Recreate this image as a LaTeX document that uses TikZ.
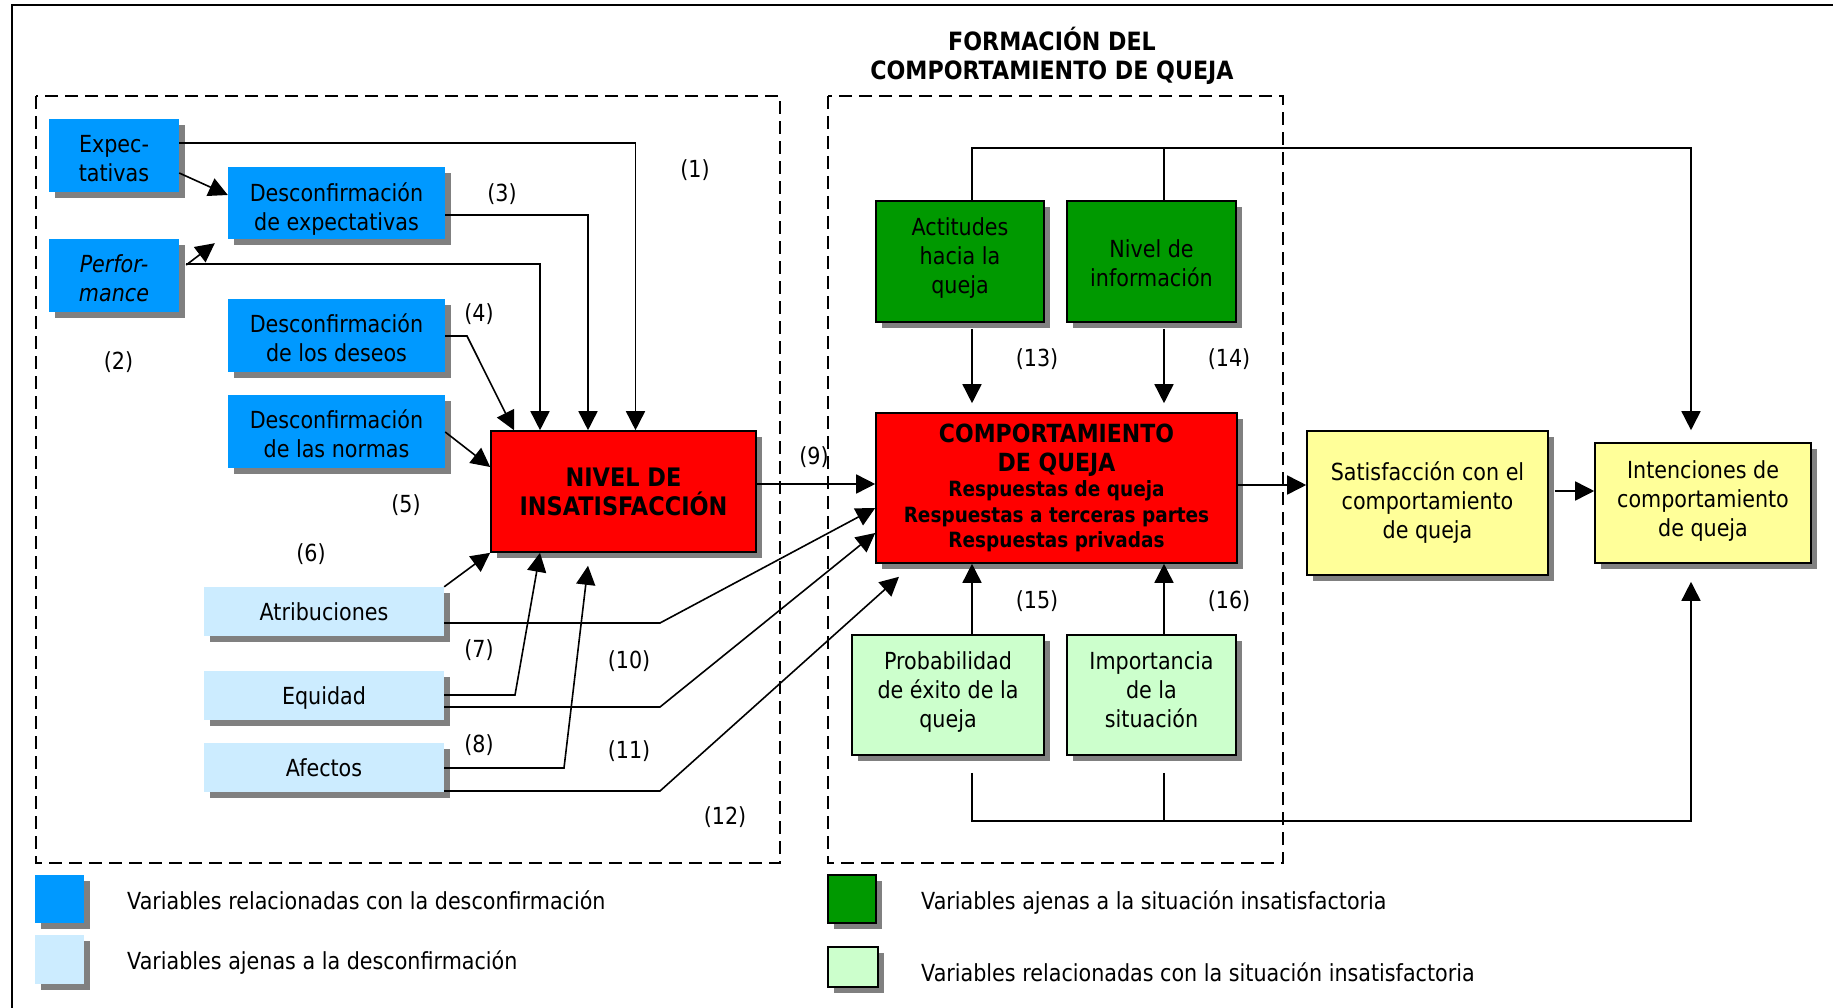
\documentclass[tikz,border=0pt]{standalone}
\usepackage{fontspec}
\setmainfont{DejaVu Sans}[FakeStretch=0.88]
\usetikzlibrary{arrows.meta,shadows,calc}
\definecolor{cblue}{RGB}{0,153,255}
\definecolor{clblue}{RGB}{204,236,255}
\definecolor{cgreen}{RGB}{0,153,0}
\definecolor{clgreen}{RGB}{204,255,204}
\definecolor{cyellow}{RGB}{255,255,153}
\definecolor{cred}{RGB}{255,0,0}
\definecolor{cshadow}{RGB}{128,128,128}
% box text: width, extra top space (moves text down by half of it), lines
\newcommand{\bxt}[3]{\parbox{#1}{\centering\vspace*{#2}\strut\ignorespaces#3\strut\par}}
\begin{document}
\begin{tikzpicture}[x=1pt,y=-1pt,
  base/.style={inner sep=0pt, align=center, font=\fontsize{23.5}{29}\selectfont},
  shad/.style={drop shadow={shadow xshift=6pt,shadow yshift=-6pt,fill=cshadow,opacity=1}},
  bluebox/.style={base,shad,fill=cblue},
  lbluebox/.style={base,shad,fill=clblue},
  greenbox/.style={base,shad,fill=cgreen,draw=black,line width=1.6pt},
  lgreenbox/.style={base,shad,fill=clgreen,draw=black,line width=1.6pt},
  yellowbox/.style={base,shad,fill=cyellow,draw=black,line width=1.6pt},
  redbox/.style={base,shad,fill=cred,draw=black,line width=1.6pt},
  conn/.style={line width=1.6pt,-{Triangle[length=19pt,width=19pt]}},
  plainline/.style={line width=1.6pt},
  dashbox/.style={line width=1.6pt,dash pattern=on 13pt off 7pt},
  lbl/.style={inner sep=0pt,font=\fontsize{23.5}{29}\selectfont},
  legtext/.style={inner sep=0pt,anchor=base west,font=\fontsize{23.5}{29}\selectfont}
]
\useasboundingbox (0,0) rectangle (1833,1008);
\fill[white] (0,0) rectangle (1833,1008);
% outer frame
\draw[line width=1.6pt] (1840,5) -- (12,5) -- (12,1015);
% dashed regions
\draw[dashbox] (36,96) rectangle (780,863);
\draw[dashbox] (828,96) rectangle (1283,863);
% title
\node[inner sep=0pt,align=center,font=\fontsize{25.2}{29}\selectfont\bfseries] (title) at (1052,56) {FORMACIÓN DEL\\COMPORTAMIENTO DE QUEJA};

% left boxes
\node[bluebox,minimum width=130pt,minimum height=73pt] (expect) at (114,155.5) {\bxt{128pt}{12pt}{Expec-\\tativas}};
\node[bluebox,minimum width=130pt,minimum height=73pt,font=\fontsize{23.5}{29}\selectfont\itshape] (perf) at (114,275.5) {\bxt{128pt}{12pt}{Perfor-\\mance}};
\node[bluebox,minimum width=217pt,minimum height=72pt] (dexp) at (336.5,203) {\bxt{214pt}{14pt}{Desconfirmación\\de expectativas}};
\node[bluebox,minimum width=217pt,minimum height=73pt] (ddes) at (336.5,335.5) {\bxt{214pt}{12pt}{Desconfirmación\\de los deseos}};
\node[bluebox,minimum width=217pt,minimum height=73pt] (dnor) at (336.5,431.5) {\bxt{214pt}{12pt}{Desconfirmación\\de las normas}};
\node[redbox,minimum width=265pt,minimum height=121pt,font=\fontsize{25.5}{29}\selectfont\bfseries] (nivel) at (623.5,491.5) {NIVEL DE\\INSATISFACCIÓN};
\node[lbluebox,minimum width=240pt,minimum height=49pt] (atrib) at (324,611.5) {\bxt{236pt}{6.5pt}{Atribuciones}};
\node[lbluebox,minimum width=240pt,minimum height=49pt] (equi) at (324,695.5) {\bxt{236pt}{5.5pt}{Equidad}};
\node[lbluebox,minimum width=240pt,minimum height=49pt] (afec) at (324,767.5) {\bxt{236pt}{6.5pt}{Afectos}};

% right boxes
\node[greenbox,minimum width=168pt,minimum height=121pt] (actit) at (960,261.5) {\bxt{165pt}{-6pt}{Actitudes\\hacia la\\queja}};
\node[greenbox,minimum width=169pt,minimum height=121pt] (ninfo) at (1151.5,261.5) {\bxt{166pt}{10pt}{Nivel de\\información}};
\node[redbox,minimum width=361pt,minimum height=150pt] (comp) at (1056.5,488) {\parbox{358pt}{\centering\fontsize{25}{29}\selectfont\bfseries COMPORTAMIENTO\par DE QUEJA\par\fontsize{21}{25.5}\selectfont Respuestas de queja\par Respuestas a terceras partes\par Respuestas privadas\par}};
\node[lgreenbox,minimum width=192pt,minimum height=120pt] (prob) at (948,695) {\bxt{189pt}{-4.5pt}{Probabilidad\\de éxito de la\\queja}};
\node[lgreenbox,minimum width=169pt,minimum height=120pt] (impo) at (1151.5,695) {\bxt{166pt}{-4.5pt}{Importancia\\de la\\situación}};
\node[yellowbox,minimum width=241pt,minimum height=144pt] (satis) at (1427.5,503) {\bxt{238pt}{1pt}{Satisfacción con el\\comportamiento\\de queja}};
\node[yellowbox,minimum width=216pt,minimum height=120pt] (inten) at (1703,503) {\bxt{213pt}{-3.5pt}{Intenciones de\\comportamiento\\de queja}};

% left connectors
\draw[conn] (expect.east |- 0,143) -| (635.5,0 |- nivel.north);
\draw[conn] (expect.east |- 0,173) -- (dexp.west |- 0,195);
\draw[conn] (perf.east) ++(7,-10.5) -- ($(dexp.south west)+(-13,4)$);
\draw[conn] (perf.east) ++(7,-11.5) -| (540,0 |- nivel.north);
\draw[conn] (dexp.east |- 0,215) -| (588,0 |- nivel.north);
\draw[conn] (ddes.east |- 0,336) -- (467,336) -- (514,0 |- nivel.north);
\draw[conn] (dnor.east |- 0,432) -- (nivel.west |- 0,467);
\draw[conn] (nivel.east |- 0,484) -- (comp.west |- 0,484);
\draw[conn] (atrib.north east) -- (nivel.south west);
\draw[conn] (atrib.east |- 0,623) -- (660,623) -- (comp.west |- 0,508);
\draw[conn] (equi.east |- 0,695) -- (515,695) -- (540,0 |- nivel.south);
\draw[conn] (equi.east |- 0,707) -- (660,707) -- (comp.west |- 0,533);
\draw[conn] (afec.east |- 0,768) -- (564,768) -- ($(nivel.south -| 588,0)+(0,13)$);
\draw[conn] (afec.east |- 0,791) -- (660,791) -- ($(comp.south -| 899,0)+(0,13)$);

% right connectors
\draw[conn] ($(actit.south -| 972,0)+(0,6)$) -- ($(comp.north -| 972,0)+(0,-9)$);
\draw[conn] ($(ninfo.south -| 1164,0)+(0,6)$) -- ($(comp.north -| 1164,0)+(0,-9)$);
\draw[conn] (actit.north -| 972,0) |- (1691,148) -- ($(inten.north -| 1691,0)+(0,-12)$);
\draw[plainline] (ninfo.north -| 1164,0) -- (1164,148);
\draw[conn] (prob.north -| 972,0) -- (comp.south -| 972,0);
\draw[conn] (impo.north -| 1164,0) -- (comp.south -| 1164,0);
\draw[conn] ($(prob.south -| 972,0)+(0,17)$) |- (1691,821) -- ($(inten.south -| 1691,0)+(0,18)$);
\draw[plainline] ($(impo.south -| 1164,0)+(0,17)$) -- (1164,821);
\draw[conn] (comp.east |- 0,485) -- (satis.west |- 0,485);
\draw[conn] ($(satis.east |- 0,491)+(6,0)$) -- (inten.west |- 0,491);

% labels
\node[lbl] (l1) at (695,170) {(1)};
\node[lbl] (l2) at (118.5,362) {(2)};
\node[lbl] (l3) at (502,194) {(3)};
\node[lbl] (l4) at (479,314) {(4)};
\node[lbl] (l5) at (406,505) {(5)};
\node[lbl] (l6) at (311,554) {(6)};
\node[lbl] (l7) at (479,650) {(7)};
\node[lbl] (l8) at (479,745) {(8)};
\node[lbl] (l9) at (814,457) {(9)};
\node[lbl] (l10) at (629,661) {(10)};
\node[lbl] (l11) at (629,751) {(11)};
\node[lbl] (l12) at (725,817) {(12)};
\node[lbl] (l13) at (1037,359) {(13)};
\node[lbl] (l14) at (1229,359) {(14)};
\node[lbl] (l15) at (1037,601) {(15)};
\node[lbl] (l16) at (1229,601) {(16)};

% legend
\node[bluebox,minimum width=49pt,minimum height=48pt] (lg1) at (59.5,899) {};
\node[lbluebox,minimum width=49pt,minimum height=49pt] (lg2) at (59.5,959.5) {};
\node[greenbox,minimum width=48pt,minimum height=48pt] (lg3) at (852,899) {};
\node[lgreenbox,minimum width=50pt,minimum height=40pt] (lg4) at (853,967) {};
\node[legtext] (lt1) at (127,909) {Variables relacionadas con la desconfirmación};
\node[legtext] (lt2) at (127,969) {Variables ajenas a la desconfirmación};
\node[legtext] (lt3) at (921,909) {Variables ajenas a la situación insatisfactoria};
\node[legtext] (lt4) at (921,981) {Variables relacionadas con la situación insatisfactoria};
\end{tikzpicture}
\end{document}
